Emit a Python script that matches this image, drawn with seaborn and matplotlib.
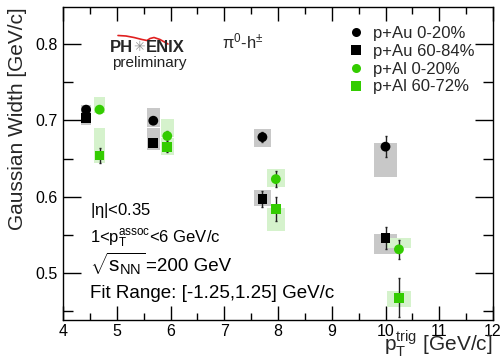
import numpy as np
import pandas as pd
import matplotlib
matplotlib.use("Agg")
import matplotlib.pyplot as plt
from matplotlib.patches import Rectangle
from matplotlib.lines import Line2D
import seaborn as sns

# ---------------- data ----------------
series_names = ["p+Au 0-20%", "p+Au 60-84%", "p+Al 0-20%", "p+Al 60-72%"]

x_au = [4.43, 5.68, 7.71, 10.00]
x_al = [4.68, 5.94, 7.96, 10.25]

y_au_c = [0.714, 0.6995, 0.678, 0.6655]
y_au_p = [0.7027, 0.670, 0.597, 0.5455]
y_al_c = [0.714, 0.6795, 0.623, 0.531]
y_al_p = [0.654, 0.6647, 0.5835, 0.4676]

stat_au_c = [0.003, 0.003, 0.007, 0.014]
stat_au_p = [0.003, 0.003, 0.010, 0.0146]
stat_al_c = [0.003, 0.007, 0.010, 0.0125]
stat_al_p = [0.010, 0.006, 0.016, 0.0255]

# systematic box extents (low, high)
sys_au_c_lo = [0.7075, 0.6917, 0.6655, 0.6262]
sys_au_c_hi = [0.7201, 0.7158, 0.6887, 0.6699]
sys_au_p_lo = [0.6939, 0.6611, 0.5878, 0.5245]
sys_au_p_hi = [0.7085, 0.6896, 0.6087, 0.5511]
sys_al_c_lo = [0.7092, 0.6778, 0.6131, 0.5324]
sys_al_c_hi = [0.7310, 0.7018, 0.6359, 0.5459]
sys_al_p_lo = [0.6437, 0.6546, 0.5554, 0.4555]
sys_al_p_hi = [0.6904, 0.6773, 0.5855, 0.4764]

x_ticks = [4, 5, 6, 7, 8, 9, 10, 11, 12]
y_ticks = [0.5, 0.6, 0.7, 0.8]

# ---------------- build table ----------------
rows = []
for name, xs, ys, st, lo, hi in [
    (series_names[0], x_au, y_au_c, stat_au_c, sys_au_c_lo, sys_au_c_hi),
    (series_names[1], x_au, y_au_p, stat_au_p, sys_au_p_lo, sys_au_p_hi),
    (series_names[2], x_al, y_al_c, stat_al_c, sys_al_c_lo, sys_al_c_hi),
    (series_names[3], x_al, y_al_p, stat_al_p, sys_al_p_lo, sys_al_p_hi),
]:
    for a, b, s, l, h in zip(xs, ys, st, lo, hi):
        rows.append(dict(series=name, pt=a, width=b, stat=s, lo=l, hi=h))
df = pd.DataFrame(rows)

BLACK = "#000000"
GREEN = "#33cc00"
palette = {series_names[0]: BLACK, series_names[1]: BLACK,
           series_names[2]: GREEN, series_names[3]: GREEN}
markers = {series_names[0]: "o", series_names[1]: "s",
           series_names[2]: "o", series_names[3]: "s"}
box_colors = {series_names[0]: "#c8c8c8", series_names[1]: "#c8c8c8",
              series_names[2]: "#d5f2cc", series_names[3]: "#d5f2cc"}

# ---------------- style ----------------
sns.set_theme(style="ticks")
plt.rcParams["font.family"] = ["Liberation Sans", "DejaVu Sans"]
plt.rcParams["mathtext.fontset"] = "custom"
plt.rcParams["mathtext.rm"] = "Liberation Sans"
plt.rcParams["mathtext.it"] = "Liberation Sans"
plt.rcParams["mathtext.default"] = "regular"

fig = plt.figure(figsize=(5.03, 3.64), dpi=100)
ax = fig.add_axes([63 / 503, 1 - 320 / 364, 430 / 503, 313 / 364])

# systematic boxes
for _, r in df.iterrows():
    hw = 0.021 * r.pt
    ax.add_patch(Rectangle((r.pt - hw, r.lo), 2 * hw, r.hi - r.lo,
                           facecolor=box_colors[r.series], edgecolor="none",
                           zorder=1))

# statistical error bars
for name in series_names:
    sub = df[df.series == name]
    ax.errorbar(sub.pt, sub.width, yerr=sub.stat, fmt="none",
                ecolor="#222222", elinewidth=1.0, capsize=1.0, capthick=1.0,
                zorder=2)

sns.scatterplot(data=df, x="pt", y="width", hue="series", style="series",
                palette=palette, markers=markers, s=50, linewidth=0,
                ax=ax, zorder=3, legend=False)

# ---------------- axes ----------------
ax.set_xlim(4, 12)
ax.set_ylim(0.4384, 0.8485)
ax.set_xticks(x_ticks)
ax.set_yticks(y_ticks)
ax.set_xticklabels([str(t) for t in x_ticks])
ax.set_yticklabels([f"{t:.1f}" for t in y_ticks])
ax.set_xticks(np.arange(4, 12.01, 0.5), minor=True)
ax.set_yticks(np.arange(0.45, 0.85, 0.05), minor=True)
ax.tick_params(which="both", direction="in", top=True, right=True,
               labelsize=11.5, colors="black", width=1.0, pad=3)
ax.tick_params(which="major", length=10)
ax.tick_params(which="minor", length=5)
ax.tick_params(axis="y", which="major", length=13, pad=4)
ax.tick_params(axis="y", which="minor", length=7)
for sp in ax.spines.values():
    sp.set_linewidth(1.0)
    sp.set_color("black")

ax.set_xlabel(r"$p_{T}^{trig}$ [GeV/c]", fontsize=15, loc="right", labelpad=-8)
ax.set_ylabel("Gaussian Width [GeV/c]", fontsize=15, loc="top", labelpad=6)

# ---------------- legend ----------------
handles = [Line2D([], [], linestyle="none", marker=markers[n], color=palette[n],
                  markersize=6.5, markeredgewidth=0) for n in series_names]
fig.legend(handles, series_names, loc="upper left",
           bbox_to_anchor=(348 / 503, 1 - 26 / 364), frameon=False,
           fontsize=12, handlelength=1.0, handletextpad=0.5,
           labelspacing=0.17, borderpad=0, borderaxespad=0)

# ---------------- annotations ----------------
txt_kw = dict(color="black", va="baseline", ha="left")
ax.text(4.5, 0.5 + (273 - 215) / 763.3, r"|$\eta$|<0.35", fontsize=12, **txt_kw)
ax.text(4.5, 0.5 + (273 - 243) / 763.3, r"1<$p_{T}^{assoc}$<6 GeV/c",
        fontsize=12, **txt_kw)
ax.text(4.5, 0.5 + (273 - 271) / 763.3, r"$\sqrt{s_{NN}}$",
        fontsize=15, **txt_kw)
ax.text(4 + (146 - 63) / 53.75, 0.5 + (273 - 271) / 763.3, "=200 GeV",
        fontsize=13.5, **txt_kw)
ax.text(4.5, 0.5 + (273 - 298) / 763.3, "Fit Range: [-1.25,1.25] GeV/c",
        fontsize=13.5, **txt_kw)
ax.text(4 + (222 - 63) / 53.75, 0.5 + (273 - 48) / 763.3, r"$\pi^{0}$-h$^{\pm}$",
        fontsize=12, ha="left", va="baseline")

# PHENIX logo
fx = lambda px: (px - 63) / 430
fy = lambda py: (320 - py) / 313
ax.text(fx(110), fy(52), "PH", transform=ax.transAxes, fontsize=12,
        fontweight="bold", ha="left", va="baseline")
ax.text(fx(139.5), fy(47), "\u2733", transform=ax.transAxes, fontsize=10,
        color="#909090", ha="center", va="center", family="DejaVu Sans")
ax.text(fx(146), fy(52), "ENIX", transform=ax.transAxes, fontsize=12,
        fontweight="bold", ha="left", va="baseline")
ax.text(fx(112), fy(67), "preliminary", transform=ax.transAxes, fontsize=11,
        color="#222222", ha="left", va="baseline")
arc_px = [118, 126, 134, 142, 147, 150, 154, 160, 168]
arc_py = [35.5, 36, 37.5, 39.5, 40.5, 38.5, 37.5, 39.5, 44]
ax.plot([fx(p) for p in arc_px], [fy(p) for p in arc_py], color="#e02020",
        lw=1.2, transform=ax.transAxes, solid_capstyle="round")

fig.savefig("out.png", dpi=100)
